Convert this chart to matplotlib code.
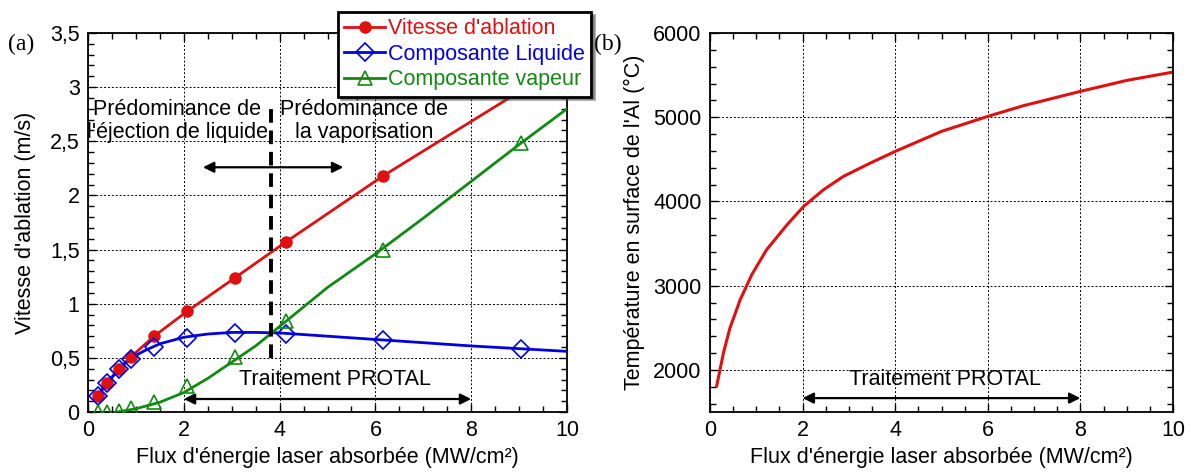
import matplotlib
matplotlib.use("Agg")
import matplotlib.pyplot as plt
from matplotlib.ticker import MultipleLocator, FixedLocator

plt.rcParams['font.family'] = ['Liberation Sans', 'DejaVu Sans']
plt.rcParams['font.size'] = 15.5

# --- donnees (a) : vitesse d'ablation ---
flux_pts = [0.2, 0.4, 0.65, 0.9, 1.38, 2.07, 3.07, 4.13, 6.16, 9.05]
vitesse_pts = [0.15, 0.265, 0.40, 0.51, 0.70, 0.93, 1.24, 1.57, 2.18]
vitesse_fin = (10.0, 3.23)  # la courbe continue sous la legende
liquide_pts = [0.15, 0.265, 0.40, 0.49, 0.60, 0.68, 0.73, 0.72, 0.665, 0.58]
vapeur_pts = [0.0, 0.0, 0.01, 0.04, 0.09, 0.24, 0.51, 0.84, 1.50, 2.48]

liq_line_x = [0.2, 0.4, 0.65, 0.9, 1.2, 1.5, 2, 2.5, 3, 3.5, 4, 5, 6, 7, 8, 9, 10]
liq_line_y = [0.15, 0.27, 0.40, 0.50, 0.57, 0.63, 0.69, 0.72, 0.735, 0.735, 0.73,
              0.70, 0.67, 0.64, 0.61, 0.585, 0.56]
vap_line_x = [0.6, 1, 1.5, 2, 2.5, 3, 3.5, 4, 5, 6, 7, 8, 9, 10]
vap_line_y = [0.0, 0.03, 0.09, 0.18, 0.31, 0.46, 0.61, 0.79, 1.15, 1.46, 1.79,
              2.13, 2.47, 2.80]

y_ticks_a = [0, 0.5, 1, 1.5, 2, 2.5, 3, 3.5]
y_labels_a = ['0', '0,5', '1', '1,5', '2', '2,5', '3', '3,5']

# --- donnees (b) : temperature de surface ---
flux_T = [0.145, 0.29, 0.43, 0.65, 0.90, 1.22, 1.66, 2.02, 2.45, 2.88, 3.46, 4.0,
          5.0, 6.0, 6.77, 8.0, 9.0, 10.0]
temp_T = [1810, 2200, 2495, 2830, 3128, 3425, 3720, 3940, 4138, 4297, 4455, 4594,
          4832, 5010, 5137, 5307, 5437, 5536]

x_ticks = [0, 2, 4, 6, 8, 10]

RED = '#e01010'
BLUE = '#0000e0'
GREEN = '#108a10'
serif = ['Liberation Serif', 'DejaVu Serif']

fig = plt.figure(figsize=(11.9, 4.73), dpi=100)
ax1 = fig.add_axes([88/1190, 61/473, 479/1190, 379/473])
ax2 = fig.add_axes([710/1190, 61/473, 463/1190, 379/473])


def style_axes(ax):
    ax.xaxis.set_major_locator(FixedLocator(x_ticks))
    ax.xaxis.set_minor_locator(MultipleLocator(0.5))
    ax.tick_params(which='both', direction='in', top=True, right=True, width=1)
    ax.tick_params(which='major', length=6, pad=6)
    ax.tick_params(which='minor', length=4)
    ax.grid(True, which='major', color='k', linestyle=(0, (2, 2)), linewidth=0.7)
    for s in ax.spines.values():
        s.set_linewidth(1.3)
    ax.set_xlim(0, 10)
    ax.set_xlabel("Flux d'énergie laser absorbée (MW/cm²)", labelpad=4)


# ---------- (a) ----------
ax1.plot(flux_pts[:len(vitesse_pts)] + [vitesse_fin[0]], vitesse_pts + [vitesse_fin[1]],
         color=RED, lw=2, zorder=3)
ax1.plot(flux_pts[:len(vitesse_pts)], vitesse_pts, 'o', color=RED, ms=8, zorder=4)
ax1.plot(liq_line_x, liq_line_y, color=BLUE, lw=2, zorder=3)
ax1.plot(flux_pts, liquide_pts, 'D', mfc='none', mec=BLUE, ms=9, mew=1.2, zorder=4)
ax1.plot(vap_line_x, vap_line_y, color=GREEN, lw=2, zorder=3)
ax1.plot(flux_pts, vapeur_pts, '^', mfc='none', mec=GREEN, ms=10, mew=1.2, zorder=4)

# handles de legende
h1, = ax1.plot([], [], '-o', color=RED, lw=2, ms=8, label="Vitesse d'ablation")
h2, = ax1.plot([], [], '-D', color=BLUE, lw=2, ms=9, mfc='none', mew=1.2,
               label='Composante Liquide')
h3, = ax1.plot([], [], '-^', color=GREEN, lw=2, ms=10, mfc='none', mew=1.2,
               label='Composante vapeur')

ax1.set_ylim(0, 3.5)
ax1.yaxis.set_major_locator(FixedLocator(y_ticks_a))
ax1.set_yticklabels(y_labels_a)
ax1.yaxis.set_minor_locator(MultipleLocator(0.1))
style_axes(ax1)
ax1.set_ylabel("Vitesse d'ablation (m/s)", labelpad=10)

ax1.plot([3.83, 3.83], [0.5, 2.81], color='k', lw=2.8, linestyle=(0, (3.5, 2)), zorder=5)
ax1.text(1.86, 2.69, "Prédominance de\nl'éjection de liquide", ha='center', va='center',
         linespacing=1.1, zorder=6)
ax1.text(5.77, 2.69, "Prédominance de\nla vaporisation", ha='center', va='center',
         linespacing=1.1, zorder=6)
ax1.annotate('', xy=(2.4, 2.26), xytext=(5.33, 2.26),
             arrowprops=dict(arrowstyle='<|-|>', color='k', lw=1.6, mutation_scale=16,
                             shrinkA=0, shrinkB=0), zorder=6)
ax1.annotate('', xy=(2.0, 0.12), xytext=(8.0, 0.12),
             arrowprops=dict(arrowstyle='<|-|>', color='k', lw=1.6, mutation_scale=16,
                             shrinkA=0, shrinkB=0), zorder=6)
ax1.text(5.16, 0.30, 'Traitement PROTAL', ha='center', va='center', zorder=6)

# ---------- (b) ----------
ax2.plot(flux_T, temp_T, color=RED, lw=2.2)
ax2.set_ylim(1500, 6000)
ax2.yaxis.set_major_locator(FixedLocator([2000, 3000, 4000, 5000, 6000]))
ax2.yaxis.set_minor_locator(MultipleLocator(200))
style_axes(ax2)
ax2.set_ylabel("Température en surface de l'Al (°C)", labelpad=6)
ax2.annotate('', xy=(2.0, 1665), xytext=(8.0, 1665),
             arrowprops=dict(arrowstyle='<|-|>', color='k', lw=1.6, mutation_scale=16,
                             shrinkA=0, shrinkB=0), zorder=6)
ax2.text(5.08, 1880, 'Traitement PROTAL', ha='center', va='center', zorder=6)

# etiquettes (a) et (b)
fig.text(8/1190, 1 - 44/473, '(a)', family=serif, fontsize=17, va='center')
fig.text(594/1190, 1 - 44/473, '(b)', family=serif, fontsize=17, va='center')

leg = fig.legend(handles=[h1, h2, h3], loc='upper left',
                 bbox_to_anchor=(338/1190, 1 - 12/473), frameon=True, shadow=True,
                 fancybox=False, edgecolor='k', framealpha=1, labelcolor='linecolor',
                 handlelength=1.9, handletextpad=0.1, borderpad=0.3,
                 labelspacing=0.2, borderaxespad=0)
leg.get_frame().set_linewidth(2)

fig.savefig('out.png', dpi=100)
